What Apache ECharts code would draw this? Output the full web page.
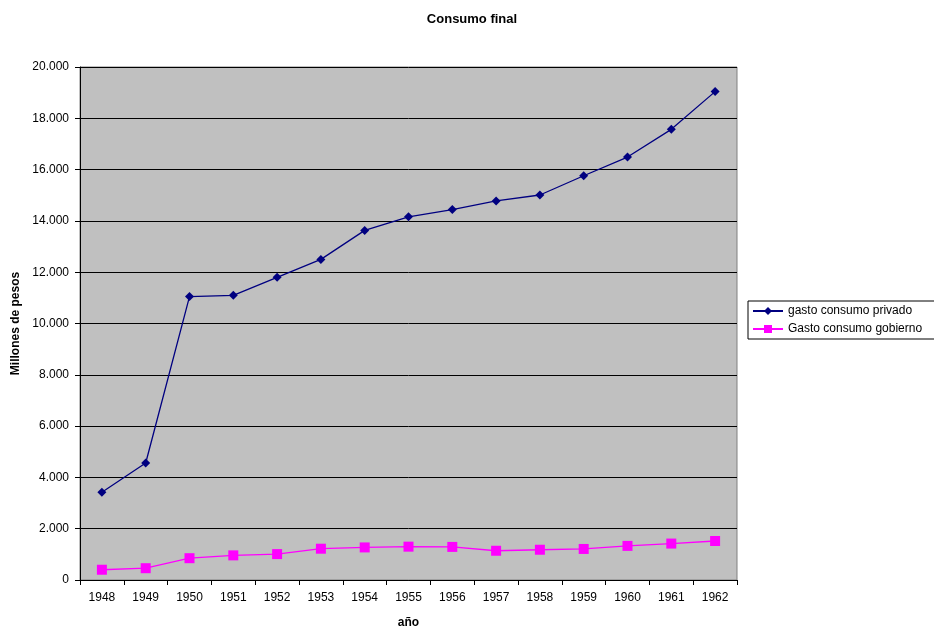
<!DOCTYPE html>
<html><head><meta charset="utf-8">
<script src="https://cdn.jsdelivr.net/npm/echarts@6/dist/echarts.min.js"></script>
<style>html,body{margin:0;padding:0;background:#fff}#c{width:934px;height:628px}</style>
</head><body><div id="c"></div>
<script>
const years = ['1948','1949','1950','1951','1952','1953','1954','1955','1956','1957','1958','1959','1960','1961','1962'];
const privado = [3420, 4560, 11050, 11100, 11800, 12500, 13630, 14160, 14440, 14780, 15010, 15760, 16490, 17570, 19040];
const gobierno = [400, 460, 850, 960, 1010, 1220, 1270, 1300, 1290, 1140, 1180, 1210, 1330, 1420, 1520];
const F = 'Liberation Sans, Arial, sans-serif';
const chart = echarts.init(document.getElementById('c'));
chart.setOption({
  animation: false,
  title: { text: 'Consumo final', left: 467, top: 8, textAlign: 'center',
    textStyle: { fontFamily: F, fontSize: 13, fontWeight: 'bold', color: '#000' } },
  grid: { left: 80, right: 197, top: 67, bottom: 48, containLabel: false, outerBoundsMode: 'none',
    show: true, backgroundColor: '#C0C0C0', borderColor: '#808080', borderWidth: 1 },
  legend: {
    orient: 'vertical', left: 748, top: 301, padding: [4, 30, 4, 4], itemGap: 6,
    borderColor: '#000', borderWidth: 1, backgroundColor: '#fff',
    itemWidth: 30, itemHeight: 10,
    textStyle: { fontFamily: F, fontSize: 12, color: '#000' },
    data: ['gasto consumo privado', 'Gasto consumo gobierno']
  },
  xAxis: {
    type: 'category', data: years, boundaryGap: true,
    name: 'año', nameLocation: 'middle', nameGap: 37,
    nameTextStyle: { fontFamily: F, fontSize: 12, fontWeight: 'bold', color: '#000' },
    axisLine: { lineStyle: { color: '#000' } },
    axisTick: { show: true, inside: false, length: 5, lineStyle: { color: '#000' } },
    axisLabel: { fontFamily: F, fontSize: 12, color: '#000', margin: 12 },
    splitLine: { show: false }
  },
  yAxis: {
    type: 'value', min: 0, max: 20000, interval: 2000,
    name: 'Millones de pesos', nameLocation: 'middle', nameGap: 58, nameRotate: 90,
    nameTextStyle: { fontFamily: F, fontSize: 12, fontWeight: 'bold', color: '#000' },
    axisLine: { show: true, lineStyle: { color: '#000' } },
    axisTick: { show: true, length: 5, lineStyle: { color: '#000' } },
    axisLabel: { fontFamily: F, fontSize: 12, color: '#000', margin: 11,
      formatter: v => v === 0 ? '0' : (v / 1000).toFixed(3) },
    splitLine: { show: true, lineStyle: { color: '#000', width: 1 } }
  },
  series: [
    { name: 'gasto consumo privado', type: 'line', data: privado,
      symbol: 'diamond', symbolSize: 9,
      lineStyle: { color: '#000080', width: 1.3 }, itemStyle: { color: '#000080' } },
    { name: 'Gasto consumo gobierno', type: 'line', data: gobierno,
      symbol: 'rect', symbolSize: 10,
      lineStyle: { color: '#FF00FF', width: 1.3 }, itemStyle: { color: '#FF00FF' } }
  ]
});
</script></body></html>
